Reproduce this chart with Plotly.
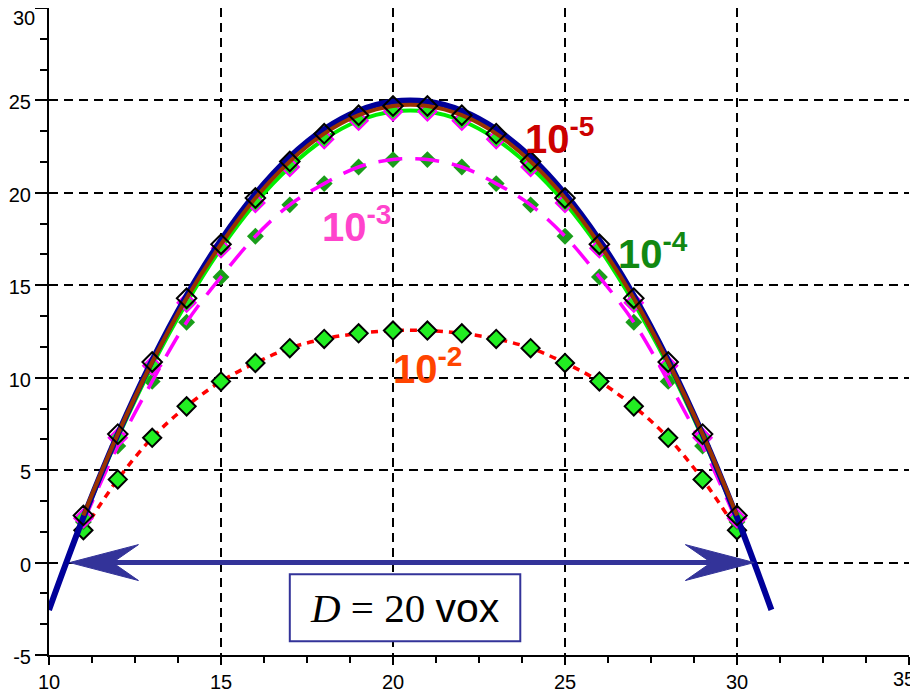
import plotly.graph_objects as go

# analytic profile (thick navy line)
x_exact = [10, 11, 12, 13, 14, 15, 16, 17, 18, 19, 20, 21, 22, 23, 24, 25, 26, 27, 28, 29, 30, 31]
y_exact = [-2.56, 2.44, 6.94, 10.94, 14.44, 17.44, 19.94, 21.94, 23.44, 24.44, 24.94,
           24.94, 24.44, 23.44, 21.94, 19.94, 17.44, 14.44, 10.94, 6.94, 2.44, -2.56]

# simulated profiles at integer voxel positions
x_vox = [11, 12, 13, 14, 15, 16, 17, 18, 19, 20, 21, 22, 23, 24, 25, 26, 27, 28, 29, 30]
y_1e5 = [2.55, 6.95, 10.85, 14.3, 17.22, 19.72, 21.7, 23.2, 24.2, 24.7,
         24.7, 24.2, 23.2, 21.7, 19.72, 17.22, 14.3, 10.85, 6.95, 2.55]
y_1e4 = [2.4, 6.75, 10.65, 14.05, 17.0, 19.45, 21.4, 22.9, 23.9, 24.4,
         24.4, 23.9, 22.9, 21.4, 19.45, 17.0, 14.05, 10.65, 6.75, 2.4]
y_1e3 = [2.2, 6.3, 9.8, 13.0, 15.45, 17.65, 19.35, 20.5, 21.4, 21.8,
         21.8, 21.4, 20.5, 19.35, 17.65, 15.45, 13.0, 9.8, 6.3, 2.2]
y_1e2 = [1.75, 4.5, 6.75, 8.45, 9.8, 10.8, 11.6, 12.1, 12.4, 12.55,
         12.55, 12.4, 12.1, 11.6, 10.8, 9.8, 8.45, 6.75, 4.5, 1.75]

# axis ticks
x_ticks = [10, 15, 20, 25, 30, 35]
y_ticks = [-5, 0, 5, 10, 15, 20, 25, 30]

# curve labels: text, x, y, colour
labels = [
    ("10<sup>-5</sup>", 24.85, 23.05, "#cc0000"),
    ("10<sup>-4</sup>", 27.55, 16.85, "#118811"),
    ("10<sup>-3</sup>", 18.95, 18.3, "#ff44cc"),
    ("10<sup>-2</sup>", 21.0, 10.65, "#ff4400"),
]

arrow_x0, arrow_x1, arrow_y = 10.6, 30.5, 0.0
box_x0, box_x1, box_y0, box_y1 = 17.0, 23.7, -4.25, -0.63
arrow_color = "#333399"
tick_font = dict(family="Arial", size=20, color="black")

fig = go.Figure()

fig.add_trace(go.Scatter(
    x=x_vox, y=y_1e2, mode="lines+markers", line_shape="spline",
    line=dict(color="#ff0000", width=3.5, dash="7px,6px"),
    marker=dict(symbol="diamond", size=14, color="#22ee22",
                line=dict(color="black", width=2)),
))
fig.add_trace(go.Scatter(
    x=x_vox, y=y_1e3, mode="markers",
    marker=dict(symbol="diamond", size=13, color="#1a9e1a", line=dict(width=0)),
))
fig.add_trace(go.Scatter(
    x=x_vox, y=y_1e3, mode="lines", line_shape="spline",
    line=dict(color="#ff00ff", width=3.5, dash="24px,13px"),
))
fig.add_trace(go.Scatter(
    x=x_vox, y=y_1e4, mode="lines+markers", line_shape="spline",
    line=dict(color="#00ee00", width=4),
    marker=dict(symbol="diamond", size=14, color="#22ee22",
                line=dict(color="#ff00ff", width=2)),
))
fig.add_trace(go.Scatter(
    x=x_exact, y=y_exact, mode="lines", line_shape="spline",
    line=dict(color="#000099", width=6),
))
fig.add_trace(go.Scatter(
    x=x_vox, y=y_1e5, mode="lines+markers", line_shape="spline",
    line=dict(color="#993300", width=4),
    marker=dict(symbol="diamond-open", size=15, color="black",
                line=dict(color="black", width=2)),
))

for text, lx, ly, col in labels:
    fig.add_annotation(x=lx, y=ly, text=text, showarrow=False,
                       font=dict(family="Arial", size=40, color=col, weight="bold"))

# double headed arrow: shaft plus two barbed heads
head_len, head_notch, head_half = 2.0, 1.25, 0.97
fig.add_shape(type="line", x0=arrow_x0 + 1.0, x1=arrow_x1 - 1.0, y0=arrow_y, y1=arrow_y,
              line=dict(color=arrow_color, width=5))
for tip, sgn in ((arrow_x0, 1), (arrow_x1, -1)):
    path = (f"M{tip},{arrow_y} L{tip + sgn * head_len},{arrow_y + head_half} "
            f"L{tip + sgn * head_notch},{arrow_y} L{tip + sgn * head_len},{arrow_y - head_half} Z")
    fig.add_shape(type="path", path=path, fillcolor=arrow_color,
                  line=dict(color=arrow_color, width=1))

fig.add_shape(type="rect", x0=box_x0, x1=box_x1, y0=box_y0, y1=box_y1,
              fillcolor="white", line=dict(color=arrow_color, width=2))
fig.add_annotation(
    x=(box_x0 + box_x1) / 2, y=(box_y0 + box_y1) / 2, showarrow=False,
    text="<i>D</i> = 20 <span style='font-family:Arial'>vox</span>",
    font=dict(family="Liberation Serif, Times New Roman, serif", size=41, color="black"),
)

# edge labels nudged inwards so they are not cut off
fig.add_annotation(x=0, xref="paper", xanchor="right", xshift=-12,
                   y=y_ticks[-1], yanchor="top", yshift=3,
                   text=str(y_ticks[-1]), showarrow=False, font=tick_font)
fig.add_annotation(x=x_ticks[-1], xanchor="right", xshift=7,
                   y=-0.037, yref="paper", yanchor="middle", borderpad=0,
                   text=str(x_ticks[-1]), showarrow=False, font=tick_font)

axis_common = dict(
    showline=True, linecolor="black", linewidth=2, mirror=False,
    showgrid=True, gridcolor="black", gridwidth=1.5, griddash="9px,6px",
    zeroline=False, ticks="outside", tickwidth=2, tickcolor="black",
    tickfont=tick_font, ticklabeloverflow="allow",
)

# page body has an 8px margin, so the figure is sized to fit the 918x693 window
fig.update_layout(
    width=910, height=685,
    paper_bgcolor="white", plot_bgcolor="white",
    showlegend=False,
    margin=dict(l=41, r=9, t=0, b=36),
    xaxis=dict(range=[10, 35], tickvals=x_ticks,
               ticktext=[str(v) for v in x_ticks[:-1]] + [""],
               ticklen=8, ticklabelstandoff=0,
               minor=dict(dtick=1.25, tick0=10, ticks="outside", ticklen=6, tickwidth=2,
                          tickcolor="black"),
               **axis_common),
    yaxis=dict(range=[-5, 30], tickvals=y_ticks,
               ticktext=[str(v) for v in y_ticks[:-1]] + [""],
               ticklen=12, ticklabelshift=2, ticklabelstandoff=0,
               minor=dict(dtick=5 / 3, tick0=-5, ticks="outside", ticklen=7, tickwidth=2,
                          tickcolor="black"),
               **axis_common),
)

fig.write_html("out.html")
